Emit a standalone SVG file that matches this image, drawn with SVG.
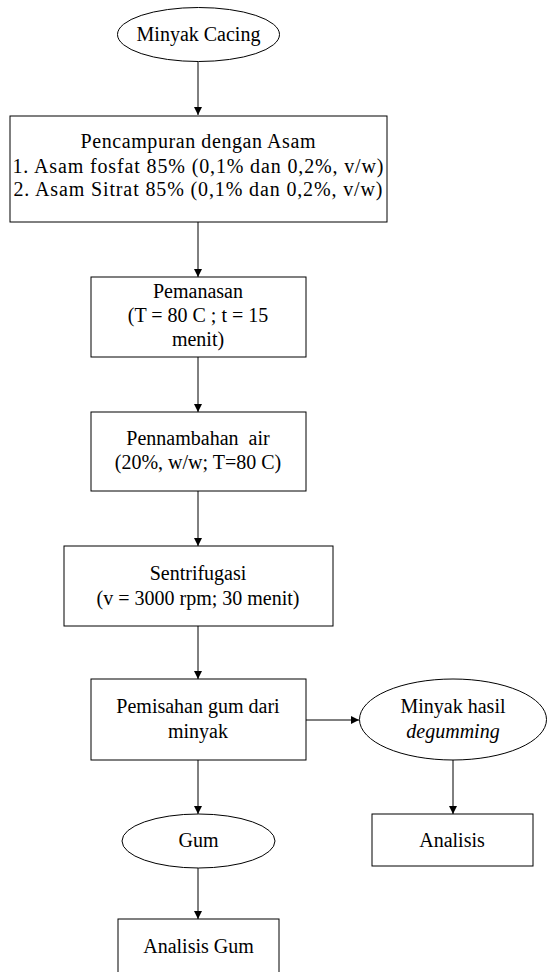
<svg xmlns="http://www.w3.org/2000/svg" width="547" height="972" viewBox="0 0 547 972">
<style>
.s{fill:#fff;stroke:#000;stroke-width:1}
.t{font-family:"Liberation Serif","Times New Roman",serif;font-size:20px;fill:#000;text-anchor:middle}
.c{stroke:#000;stroke-width:1;fill:none}
</style>
<defs>
<marker id="a" viewBox="0 0 10 10" refX="10" refY="5" markerWidth="8" markerHeight="8" markerUnits="userSpaceOnUse" orient="auto">
<path d="M0,0 L10,5 L0,10 z" fill="#000"/>
</marker>
</defs>
<rect width="547" height="972" fill="#fff"/>
<g id="connectors">
<line class="c" x1="198" y1="62" x2="198" y2="115" marker-end="url(#a)"/>
<line class="c" x1="198" y1="222" x2="198" y2="277" marker-end="url(#a)"/>
<line class="c" x1="198" y1="357" x2="198" y2="412" marker-end="url(#a)"/>
<line class="c" x1="198" y1="491" x2="198" y2="546" marker-end="url(#a)"/>
<line class="c" x1="198" y1="626" x2="198" y2="679" marker-end="url(#a)"/>
<line class="c" x1="306" y1="720" x2="359" y2="720" marker-end="url(#a)"/>
<line class="c" x1="453" y1="760" x2="453" y2="814" marker-end="url(#a)"/>
<line class="c" x1="198" y1="760" x2="198" y2="814" marker-end="url(#a)"/>
<line class="c" x1="198" y1="868" x2="198" y2="919" marker-end="url(#a)"/>
</g>
<g id="n1">
<ellipse class="s" cx="198.5" cy="34.5" rx="81" ry="27"/>
<text class="t" x="198.5" y="41">Minyak Cacing</text>
</g>
<g id="n2">
<rect class="s" x="10" y="116" width="377" height="106"/>
<text class="t" x="198" y="148" textLength="235">Pencampuran dengan Asam</text>
<text class="t" x="198" y="173" textLength="371">1. Asam fosfat 85% (0,1% dan 0,2%, v/w)</text>
<text class="t" x="198" y="196" textLength="369">2. Asam Sitrat 85% (0,1% dan 0,2%, v/w)</text>
</g>
<g id="n3">
<rect class="s" x="91" y="277" width="215" height="80"/>
<text class="t" x="198" y="298">Pemanasan</text>
<text class="t" x="198" y="322">(T = 80 C ; t = 15</text>
<text class="t" x="198" y="346">menit)</text>
</g>
<g id="n4">
<rect class="s" x="91" y="412" width="215" height="79"/>
<text class="t" x="198" y="445" xml:space="preserve">Pennambahan  air</text>
<text class="t" x="198" y="469">(20%, w/w; T=80 C)</text>
</g>
<g id="n5">
<rect class="s" x="64" y="546" width="269" height="80"/>
<text class="t" x="198" y="580">Sentrifugasi</text>
<text class="t" x="198" y="605">(v = 3000 rpm; 30 menit)</text>
</g>
<g id="n6">
<rect class="s" x="91" y="679" width="215" height="81"/>
<text class="t" x="198" y="713">Pemisahan gum dari</text>
<text class="t" x="198" y="738">minyak</text>
</g>
<g id="n7">
<ellipse class="s" cx="453" cy="719.5" rx="93.5" ry="40.5"/>
<text class="t" x="453" y="713">Minyak hasil</text>
<text class="t" x="453" y="738" font-style="italic">degumming</text>
</g>
<g id="n8">
<rect class="s" x="372" y="814" width="161" height="52"/>
<text class="t" x="452" y="847">Analisis</text>
</g>
<g id="n9">
<ellipse class="s" cx="198.5" cy="841" rx="76.5" ry="27"/>
<text class="t" x="198.5" y="847">Gum</text>
</g>
<g id="n10">
<rect class="s" x="118" y="919" width="161" height="60"/>
<text class="t" x="198.5" y="953">Analisis Gum</text>
</g>
</svg>
